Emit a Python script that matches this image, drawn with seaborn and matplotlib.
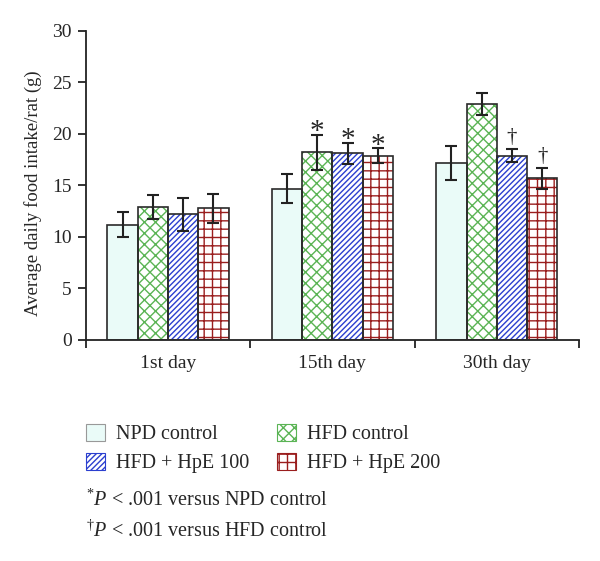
import pandas as pd
import matplotlib.pyplot as plt
import seaborn as sns
from matplotlib.patches import Patch, Rectangle

# Data
days = ['1st day', '15th day', '30th day']
groups = ['NPD control', 'HFD control', 'HFD + HpE 100', 'HFD + HpE 200']
npd = [11.2, 14.7, 17.2]
hfd = [12.9, 18.2, 22.9]
hpe100 = [12.2, 18.1, 17.9]
hpe200 = [12.8, 17.9, 15.7]
npd_err = [1.2, 1.4, 1.65]
hfd_err = [1.2, 1.7, 1.1]
hpe100_err = [1.6, 1.0, 0.6]
hpe200_err = [1.4, 0.7, 1.0]
# significance marks per (day, bar)
marks = {(1, 1): '*', (1, 2): '*', (1, 3): '*', (2, 2): '\u2020', (2, 3): '\u2020'}

sns.set_style("white")
plt.rcParams['font.family'] = ['Liberation Serif', 'DejaVu Serif']
plt.rcParams['mathtext.fontset'] = 'custom'
plt.rcParams['mathtext.it'] = 'Liberation Serif:italic'
plt.rcParams['mathtext.rm'] = 'Liberation Serif'
plt.rcParams['hatch.linewidth'] = 1.0

values = [npd, hfd, hpe100, hpe200]
errors = [npd_err, hfd_err, hpe100_err, hpe200_err]
df = pd.DataFrame({
    'day': days * 4,
    'group': [g for g in groups for _ in days],
    'value': [v for vals in values for v in vals],
})

# face colour, hatch colour, hatch pattern
styles = [('#eafbf8', '#eafbf8', ''),
          ('white', '#5bb455', 'xxx'),
          ('white', '#2b3fcf', '//////'),
          ('white', '#9a1e1e', '++')]

fig = plt.figure(figsize=(6, 5.61), dpi=100)
ax = fig.add_axes([0.143, 0.394, 0.822, 0.551])

sns.barplot(data=df, x='day', y='value', hue='group', order=days, hue_order=groups,
            width=0.737, errorbar=None, legend=False, ax=ax)

bars = [p for p in ax.patches if isinstance(p, Rectangle)]
for gi, g in enumerate(groups):
    fc, hc, hatch = styles[gi]
    for di in range(len(days)):
        p = bars[gi * len(days) + di]
        p.set_facecolor(fc)
        p.set_edgecolor(hc)
        p.set_hatch(hatch)
        p.set_linewidth(0)
        ax.add_patch(Rectangle(p.get_xy(), p.get_width(), p.get_height(),
                               fill=False, edgecolor='#2a2a2a', linewidth=1.2, zorder=3))
        cx = p.get_x() + p.get_width() / 2
        v = values[gi][di]
        e = errors[gi][di]
        ax.errorbar(cx, v, yerr=e, fmt='none', ecolor='#222222', elinewidth=1.5,
                    capsize=4.5, capthick=1.5, zorder=4)
        if (di, gi) in marks:
            if marks[(di, gi)] == '*':
                ax.text(cx, v + e - 1.0, '*', ha='center', va='bottom',
                        fontsize=21, zorder=5)
            else:
                ax.text(cx, v + e + 0.7, '\u2020', ha='center', va='baseline',
                        fontsize=15, zorder=5)

ax.set_xlim(-0.5, 2.5)
ax.set_ylim(0, 30)
ax.set_yticks(range(0, 31, 5))
ax.set_xticks([-0.5, 0.5, 1.5, 2.5])
ax.set_xticklabels([])
ax.set_xticks([0, 1, 2], minor=True)
ax.set_xticklabels(days, minor=True)
ax.tick_params(axis='x', which='major', bottom=True, direction='out', length=6,
               width=1.3, color='#222222')
ax.tick_params(axis='x', which='minor', bottom=True, length=0, pad=11, labelsize=14)
ax.tick_params(axis='y', left=True, direction='out', length=6, width=1.3,
               color='#222222', labelsize=14, pad=4)
ax.set_xlabel('')
ax.set_ylabel('Average daily food intake/rat (g)', fontsize=13.5)
ax.yaxis.set_label_coords(-0.089, 0.476)
for s in ['top', 'right']:
    ax.spines[s].set_visible(False)
for s in ['left', 'bottom']:
    ax.spines[s].set_linewidth(1.3)
    ax.spines[s].set_color('#222222')

handles = []
for gi, g in enumerate(groups):
    fc, hc, hatch = styles[gi]
    handles.append(Patch(facecolor=fc, edgecolor=hc if hatch else '#999999',
                         hatch=hatch, linewidth=0.8, label=g))

leg_kw = dict(loc='upper left', frameon=False, fontsize=14.5, handlelength=0.95,
              handleheight=0.95, handletextpad=0.55, labelspacing=0.42,
              borderaxespad=0, borderpad=0)
fig.legend([handles[0], handles[2]], [groups[0], groups[2]],
           bbox_to_anchor=(0.143, 0.245), **leg_kw)
fig.legend([handles[1], handles[3]], [groups[1], groups[3]],
           bbox_to_anchor=(0.461, 0.245), **leg_kw)

fig.text(0.143, 0.108, r'$^{*}\mathit{P}$ < .001 versus NPD control', fontsize=14.5, va='center')
fig.text(0.143, 0.054, r'$^{\dagger}\mathit{P}$ < .001 versus HFD control', fontsize=14.5, va='center')

fig.savefig('out.png', dpi=100)
